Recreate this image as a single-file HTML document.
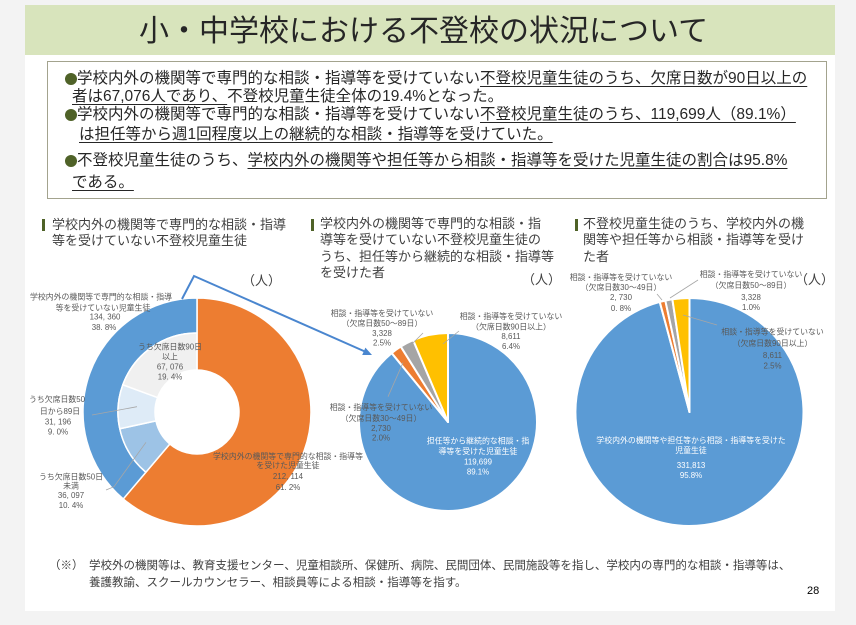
<!DOCTYPE html>
<html><head><meta charset="utf-8">
<style>
html,body{margin:0;padding:0;}
body{width:856px;height:625px;background:#f3f3f3;position:relative;overflow:hidden;font-family:"Liberation Sans","Noto Sans CJK JP",sans-serif;}
.panel{position:absolute;left:25px;top:5px;width:810px;height:606px;background:#fff;}
.bar{position:absolute;left:25px;top:5px;width:810px;height:50px;background:#d8e4bc;}
.title{position:absolute;left:139px;top:12px;font-size:30px;line-height:40px;color:#262626;white-space:nowrap;}
.box{position:absolute;left:47px;top:61px;width:778px;height:136px;border:1px solid #a3a38e;box-sizing:content-box;}
.ln{position:absolute;font-size:15.5px;line-height:18px;color:#262626;white-space:nowrap;}
.u{text-decoration:underline;text-decoration-thickness:1px;text-underline-offset:2.5px;}
.dot{position:absolute;width:12px;height:12px;border-radius:50%;background:#4f6228;}
.hbar{position:absolute;width:3px;height:12px;background:#4f6228;}
.hd{position:absolute;font-size:13px;line-height:16.4px;color:#404040;white-space:nowrap;}
.unit{position:absolute;font-size:13px;line-height:16px;color:#404040;white-space:nowrap;}
.fn{position:absolute;font-size:11.5px;line-height:14px;color:#404040;white-space:nowrap;}
svg{position:absolute;left:0;top:0;}
</style></head><body>
<div class="panel"></div>
<div class="bar"></div>
<div class="title">小・中学校における不登校の状況について</div>

<div class="box"></div>
<div class="dot" style="left:65px;top:73px;"></div>
<div class="ln" style="left:77px;top:70px;">学校内外の機関等で専門的な相談・指導等を受けていない<span class="u">不登校児童生徒のうち、欠席日数が90日以上の</span></div>
<div class="ln" style="left:72px;top:88px;"><span class="u">者は67,076人であり、</span>不登校児童生徒全体の19.4%となった。</div>
<div class="dot" style="left:65px;top:109px;"></div>
<div class="ln" style="left:77px;top:106px;">学校内外の機関等で専門的な相談・指導等を受けていない<span class="u">不登校児童生徒のうち、119,699人（89.1%）</span></div>
<div class="ln" style="left:79px;top:126px;"><span class="u">は担任等から週1回程度以上の継続的な相談・指導等を受けていた。</span></div>
<div class="dot" style="left:65px;top:155px;"></div>
<div class="ln" style="left:77px;top:152px;">不登校児童生徒のうち、<span class="u">学校内外の機関等や担任等から相談・指導等を受けた児童生徒の割合は95.8%</span></div>
<div class="ln" style="left:72px;top:174px;"><span class="u">である。</span></div>

<div class="hbar" style="left:42px;top:219px;"></div>
<div class="hd" style="left:52px;top:217px;">学校内外の機関等で専門的な相談・指導<br>等を受けていない不登校児童生徒</div>
<div class="hbar" style="left:311px;top:219px;"></div>
<div class="hd" style="left:320px;top:216px;">学校内外の機関等で専門的な相談・指<br>導等を受けていない不登校児童生徒の<br>うち、担任等から継続的な相談・指導等<br>を受けた者</div>
<div class="hbar" style="left:575px;top:219px;"></div>
<div class="hd" style="left:583px;top:216px;">不登校児童生徒のうち、学校内外の機<br>関等や担任等から相談・指導等を受け<br>た者</div>

<div class="unit" style="left:242px;top:273px;">（人）</div>
<div class="unit" style="left:522px;top:272px;">（人）</div>
<div class="unit" style="left:795px;top:272px;">（人）</div>

<svg width="856" height="625" viewBox="0 0 856 625" style="font-family:'Liberation Sans','Noto Sans CJK JP',sans-serif;">
  <!-- Chart 1 doughnut -->
  <g stroke="#fff" stroke-width="1.5" stroke-linejoin="round">
    <path d="M197 298 A114 114 0 1 1 123.24 498.94 L169.83 444.03 A42 42 0 1 0 197 370 Z" fill="#ed7d31"/>
    <path d="M123.24 498.94 A114 114 0 0 1 197 298 L197 333 A79 79 0 0 0 145.89 472.25 Z" fill="#5b9bd5"/>
    <path d="M145.89 472.25 A79 79 0 0 1 119.79 428.75 L155.95 420.90 A42 42 0 0 0 169.83 444.03 Z" fill="#9dc3e6"/>
    <path d="M119.79 428.75 A79 79 0 0 1 122.84 384.77 L157.57 397.52 A42 42 0 0 0 155.95 420.90 Z" fill="#deebf7"/>
    <path d="M122.84 384.77 A79 79 0 0 1 197 333 L197 370 A42 42 0 0 0 157.57 397.52 Z" fill="#f0f0f0"/>
  </g>
  <!-- Chart 2 pie -->
  <g stroke="#fff" stroke-width="2" stroke-linejoin="round">
    <path d="M448 422 L448 333 A89 89 0 1 1 391.71 353.06 Z" fill="#5b9bd5"/>
    <path d="M448 422 L391.71 353.06 A89 89 0 0 1 400.79 346.55 Z" fill="#ed7d31"/>
    <path d="M448 422 L400.79 346.55 A89 89 0 0 1 413.17 340.09 Z" fill="#a5a5a5"/>
    <path d="M448 422 L413.17 340.09 A89 89 0 0 1 448 333 Z" fill="#ffc000"/>
  </g>
  <!-- Chart 3 pie -->
  <g stroke="#fff" stroke-width="2" stroke-linejoin="round">
    <path d="M689.5 412 L689.5 298 A114 114 0 1 1 659.77 301.94 Z" fill="#5b9bd5"/>
    <path d="M689.5 412 L659.77 301.94 A114 114 0 0 1 665.33 300.59 Z" fill="#ed7d31"/>
    <path d="M689.5 412 L665.33 300.59 A114 114 0 0 1 672.38 299.29 Z" fill="#a5a5a5"/>
    <path d="M689.5 412 L672.38 299.29 A114 114 0 0 1 689.5 298 Z" fill="#ffc000"/>
  </g>

  <!-- arrow -->
  <polyline points="182,299 194,276 366,352" fill="none" stroke="#4a86cf" stroke-width="2"/>
  <polygon points="372,355 362.2,354.97 365.4,347.6" fill="#4a86cf"/>

  <!-- leader lines -->
  <g stroke="#a6a6a6" stroke-width="0.8" fill="none">
    <line x1="92" y1="415" x2="137" y2="406.7"/>
    <polyline points="106,490 114,486.7 146,442.3"/>
    <line x1="413" y1="343" x2="423" y2="333"/>
    <line x1="443" y1="344" x2="459" y2="331"/>
    <line x1="388" y1="396.7" x2="403" y2="362.7"/>
    <line x1="657" y1="294" x2="662" y2="300"/>
    <line x1="698" y1="280" x2="670" y2="298"/>
    <line x1="683" y1="315" x2="717" y2="325"/>
  </g>

  <!-- chart 1 labels -->
  <g font-size="7.9" fill="#595959" text-anchor="middle">
    <text x="101" y="299.5">学校内外の機関等で専門的な相談・指導</text>
    <text x="103" y="310.5">等を受けていない児童生徒</text>
    <text x="105" y="319.5">134, 360</text>
    <text x="104" y="330">38. 8%</text>
    <text x="170" y="349.5">うち欠席日数90日</text>
    <text x="170" y="359.5">以上</text>
    <text x="170" y="369.5">67, 076</text>
    <text x="170" y="379.5">19. 4%</text>
    <text x="57" y="402">うち欠席日数50</text>
    <text x="60" y="413.8">日から89日</text>
    <text x="58" y="424.5">31, 196</text>
    <text x="58" y="434.5">9. 0%</text>
    <text x="71" y="479.5">うち欠席日数50日</text>
    <text x="71" y="488.5">未満</text>
    <text x="71" y="497.8">36, 097</text>
    <text x="71" y="507.8">10. 4%</text>
    <text x="288" y="458.8">学校内外の機関等で専門的な相談・指導等</text>
    <text x="288" y="468">を受けた児童生徒</text>
    <text x="288" y="478.8">212, 114</text>
    <text x="288" y="490">61. 2%</text>
  </g>
  <!-- chart 2 labels -->
  <g font-size="7.9" fill="#595959" text-anchor="middle">
    <text x="382" y="316">相談・指導等を受けていない</text>
    <text x="382" y="326">（欠席日数50～89日）</text>
    <text x="382" y="336">3,328</text>
    <text x="382" y="345.5">2.5%</text>
    <text x="511" y="318.8">相談・指導等を受けていない</text>
    <text x="511" y="329.5">（欠席日数90日以上）</text>
    <text x="511" y="338.8">8,611</text>
    <text x="511" y="348.8">6.4%</text>
    <text x="381" y="410">相談・指導等を受けていない</text>
    <text x="381" y="421">（欠席日数30～49日）</text>
    <text x="381" y="431">2,730</text>
    <text x="381" y="440.5">2.0%</text>
  </g>
  <g font-size="7.9" fill="#ffffff" text-anchor="middle">
    <text x="478" y="443.5">担任等から継続的な相談・指</text>
    <text x="478" y="453.8">導等を受けた児童生徒</text>
    <text x="478" y="464.5">119,699</text>
    <text x="478" y="474.5">89.1%</text>
  </g>
  <!-- chart 3 labels -->
  <g font-size="7.9" fill="#595959" text-anchor="middle">
    <text x="621" y="280">相談・指導等を受けていない</text>
    <text x="621" y="290">（欠席日数30～49日）</text>
    <text x="621" y="300">2, 730</text>
    <text x="621" y="311">0. 8%</text>
    <text x="751" y="276.8">相談・指導等を受けていない</text>
    <text x="751" y="287.8">（欠席日数50～89日）</text>
    <text x="751" y="300">3,328</text>
    <text x="751" y="310">1.0%</text>
    <text x="772.5" y="334.5">相談・指導等を受けていない</text>
    <text x="772.5" y="346">（欠席日数90日以上）</text>
    <text x="772.5" y="357.8">8,611</text>
    <text x="772.5" y="368.5">2.5%</text>
  </g>
  <g font-size="7.9" fill="#ffffff" text-anchor="middle">
    <text x="691" y="442.8">学校内外の機関等や担任等から相談・指導等を受けた</text>
    <text x="691" y="452.8">児童生徒</text>
    <text x="691" y="467.8">331,813</text>
    <text x="691" y="477.8">95.8%</text>
  </g>
</svg>

<div class="fn" style="left:49px;top:559px;">（※）</div>
<div class="fn" style="left:89px;top:559px;">学校外の機関等は、教育支援センター、児童相談所、保健所、病院、民間団体、民間施設等を指し、学校内の専門的な相談・指導等は、</div>
<div class="fn" style="left:89px;top:576px;">養護教諭、スクールカウンセラー、相談員等による相談・指導等を指す。</div>
<div style="position:absolute;left:807px;top:584px;font-size:11px;line-height:14px;color:#000;">28</div>
</body></html>
